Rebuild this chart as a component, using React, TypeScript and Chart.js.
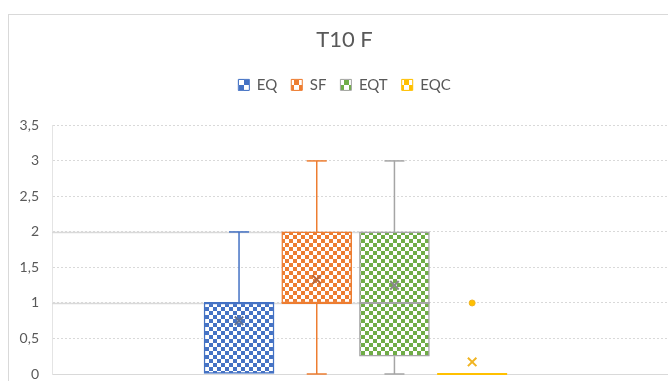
import React, { useEffect, useRef } from 'react';
import { Chart, registerables } from 'chart.js';

Chart.register(...registerables);

const chartTitle = 'T10 F';
const seriesNames = ['EQ', 'SF', 'EQT', 'EQC'];
const minValues = [0, 0, 0, 0];
const q1Values = [0, 1, 0.25, 0];
const medianValues = [1, 1, 1, 0];
const q3Values = [1, 2, 2, 0];
const maxValues = [2, 3, 3, 0];
const meanValues = [0.75, 1.33, 1.25, 0.17];
const outlierValues: number[][] = [[], [], [], [1]];
const yTickValues = [0, 0.5, 1, 1.5, 2, 2.5, 3, 3.5];
const solidGridValues = [1, 2];

const fillColors = ['#4472C4', '#ED7D31', '#70AD47', '#FFC000'];
const lineColors = ['#4472C4', '#ED7D31', '#A5A5A5', '#FFC000'];
const meanColors = ['#5f6f92', '#b8683c', '#8a8a8a', '#F0B422'];
const textColor = '#595959';
const gridColor = '#d9d9d9';
const FONT = 'Lato';

function checker(color: string, cell: number) {
  const c = document.createElement('canvas');
  c.width = cell * 2;
  c.height = cell * 2;
  const g = c.getContext('2d')!;
  g.fillStyle = '#ffffff';
  g.fillRect(0, 0, cell * 2, cell * 2);
  g.fillStyle = color;
  g.fillRect(0, 0, cell, cell);
  g.fillRect(cell, cell, cell, cell);
  return g.createPattern(c, 'repeat')!;
}

const boxExtras = {
  id: 'boxExtras',
  beforeDatasetsDraw(chart: any) {
    const ctx = chart.ctx;
    const y = chart.scales.y;
    const ref = chart.getDatasetMeta(2).data[0];
    if (!ref) return;
    const right = ref.x + ref.width / 2;
    ctx.save();
    ctx.strokeStyle = gridColor;
    ctx.lineWidth = 1.5;
    solidGridValues.forEach((v) => {
      const py = Math.round(y.getPixelForValue(v)) + 0.5;
      ctx.beginPath();
      ctx.moveTo(chart.chartArea.left, py);
      ctx.lineTo(right, py);
      ctx.stroke();
    });
    ctx.restore();
  },
  afterDatasetsDraw(chart: any) {
    const ctx = chart.ctx;
    const y = chart.scales.y;
    seriesNames.forEach((_, i) => {
      const bar = chart.getDatasetMeta(i).data[0];
      if (!bar) return;
      const x = bar.x;
      const w = bar.width;
      const cap = 10;
      ctx.save();
      ctx.strokeStyle = lineColors[i];
      ctx.lineWidth = 1.5;
      const line = (x1: number, y1: number, x2: number, y2: number) => {
        ctx.beginPath();
        ctx.moveTo(x1, y1);
        ctx.lineTo(x2, y2);
        ctx.stroke();
      };
      if (maxValues[i] > q3Values[i]) {
        const yMax = y.getPixelForValue(maxValues[i]);
        line(x, y.getPixelForValue(q3Values[i]), x, yMax);
        line(x - cap, yMax, x + cap, yMax);
      }
      if (minValues[i] < q1Values[i]) {
        const yMin = y.getPixelForValue(minValues[i]);
        line(x, y.getPixelForValue(q1Values[i]), x, yMin);
        line(x - cap, yMin, x + cap, yMin);
      }
      const yMed = y.getPixelForValue(medianValues[i]);
      ctx.lineWidth = 2;
      line(x - w / 2, yMed, x + w / 2, yMed);
      ctx.restore();
    });
  },
};

export default function App() {
  const ref = useRef<HTMLCanvasElement>(null);

  useEffect(() => {
    if (!ref.current) return;
    const patterns = fillColors.map((c) => checker(c, 4));
    const legendPatterns = fillColors.map((c) => checker(c, 5));

    const boxSets = seriesNames.map((name, i) => ({
      type: 'bar' as const,
      label: name,
      data: [{ x: i, y: [q1Values[i], q3Values[i]] }],
      backgroundColor: patterns[i],
      borderColor: lineColors[i],
      borderWidth: 1.5,
      borderSkipped: false,
      barThickness: 70,
      grouped: false,
      xAxisID: 'x',
      yAxisID: 'y',
      order: 2,
    }));
    const meanSets = seriesNames.map((name, i) => ({
      type: 'scatter' as const,
      label: name + ' mean',
      data: [{ x: i, y: meanValues[i] }],
      pointStyle: 'crossRot',
      pointRadius: 6,
      borderColor: meanColors[i],
      backgroundColor: meanColors[i],
      borderWidth: 2,
      xAxisID: 'x',
      yAxisID: 'y',
      order: 0,
    }));
    const outlierSets = seriesNames.map((name, i) => ({
      type: 'scatter' as const,
      label: name + ' outliers',
      data: outlierValues[i].map((v) => ({ x: i, y: v })),
      pointStyle: 'circle',
      pointRadius: 3,
      borderColor: meanColors[i],
      backgroundColor: fillColors[i],
      borderWidth: 1,
      xAxisID: 'x',
      yAxisID: 'y',
      order: 0,
    }));

    const chart = new Chart(ref.current, {
      type: 'bar',
      data: { datasets: [...boxSets, ...meanSets, ...outlierSets] as any },
      options: {
        animation: false,
        responsive: false,
        devicePixelRatio: 1,
        layout: { padding: { left: 0, right: 0, top: 0, bottom: 0 } },
        plugins: {
          tooltip: { enabled: false },
          title: {
            display: true,
            text: chartTitle,
            color: textColor,
            font: { family: FONT, size: 22, weight: 'normal' },
            padding: { top: 12, bottom: 10 },
          },
          legend: {
            display: true,
            position: 'top',
            labels: {
              boxWidth: 11,
              boxHeight: 11,
              padding: 14,
              color: textColor,
              font: { family: FONT, size: 15 },
              generateLabels: () =>
                seriesNames.map((n, i) => ({
                  text: n,
                  fillStyle: legendPatterns[i] as any,
                  strokeStyle: lineColors[i],
                  lineWidth: 1,
                  hidden: false,
                  datasetIndex: i,
                  fontColor: textColor,
                })),
            },
          },
        },
        scales: {
          x: {
            type: 'linear',
            position: 'bottom',
            offset: false,
            min: -2.407,
            max: 5.572,
            ticks: { display: false },
            grid: { display: false },
            border: { display: true, color: gridColor, width: 1 },
            afterFit: (s: any) => {
              s.height = 41;
            },
          },
          spacer: {
            type: 'linear',
            position: 'top',
            display: true,
            ticks: { display: false },
            grid: { display: false },
            border: { display: false },
            afterFit: (s: any) => {
              s.height = 23;
            },
          },
          y: {
            type: 'linear',
            min: 0,
            max: 3.5,
            afterBuildTicks: (s: any) => {
              s.ticks = yTickValues.map((v) => ({ value: v }));
            },
            ticks: {
              color: textColor,
              font: { family: FONT, size: 14 },
              padding: 13,
              callback: (v: any) => String(v).replace('.', ','),
            },
            grid: { color: gridColor, lineWidth: 1, drawTicks: false },
            border: { display: true, color: '#e4e4e4', dash: [2, 2] },
            afterFit: (s: any) => {
              s.width = 43;
            },
          },
        },
      } as any,
      plugins: [boxExtras],
    });
    return () => chart.destroy();
  }, []);

  return (
    <div
      style={{
        position: 'fixed',
        left: 0,
        top: 0,
        width: 668,
        height: 381,
        overflow: 'hidden',
        background: '#ffffff',
      }}
    >
      <div
        style={{
          position: 'absolute',
          left: 8,
          top: 14,
          width: 671,
          height: 400,
          borderLeft: '1px solid #d9d9d9',
          borderTop: '1px solid #d9d9d9',
        }}
      >
        <canvas ref={ref} width={671} height={400} style={{ display: 'block', width: 671, height: 400 }} />
      </div>
    </div>
  );
}
